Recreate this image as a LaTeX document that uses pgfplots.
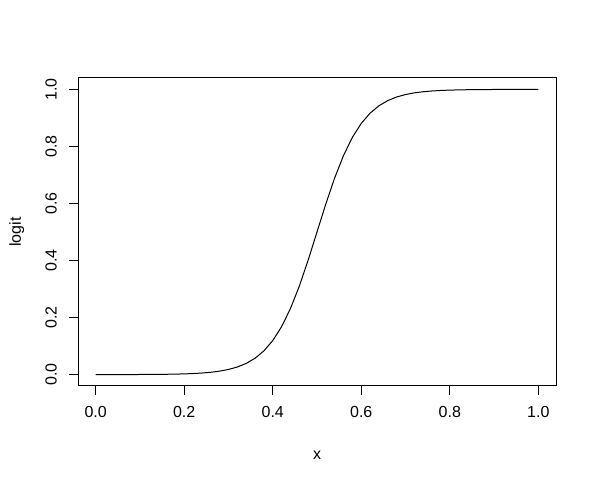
\documentclass[border=0pt]{standalone}
\usepackage{pgfplots}
\pgfplotsset{compat=1.18}
\usepackage{fontspec}
\setmainfont{Liberation Sans}
\begin{document}
\begin{tikzpicture}[x=1pt,y=1pt]
\useasboundingbox (0,0) rectangle (597,484);
\begin{axis}[
  at={(78pt,98pt)}, anchor=south west,
  scale only axis, width=478pt, height=308pt,
  xmin=-0.04, xmax=1.04, ymin=-0.04, ymax=1.04,
  axis line style={line width=1pt},
  tick style={line width=1pt, black},
  major tick length=9pt, tick align=outside, tick pos=left,
  xtick={0,0.2,0.4,0.6,0.8,1}, xticklabels={0.0,0.2,0.4,0.6,0.8,1.0},
  ytick={0,0.2,0.4,0.6,0.8,1}, yticklabels={0.0,0.2,0.4,0.6,0.8,1.0},
  every tick label/.append style={font=\fontsize{16}{19}\selectfont, inner sep=0pt},
  xticklabel style={anchor=north},
  yticklabel style={rotate=90, anchor=south},
  xticklabel shift=11pt, yticklabel shift=12pt,
  xlabel={x}, ylabel={logit},
  label style={font=\fontsize{16}{19}\selectfont},
  xlabel style={at={(axis description cs:0.5,-0.224)}, anchor=center},
  ylabel style={at={(axis description cs:-0.128,0.5)}, anchor=center},
]
\addplot[black, line width=1pt] coordinates {
(0.00,0.0000454)(0.02,0.0000677)(0.04,0.000101)(0.06,0.000151)(0.08,0.000225)
(0.10,0.000335)(0.12,0.000500)(0.14,0.000746)(0.16,0.00111)(0.18,0.00166)
(0.20,0.00247)(0.22,0.00368)(0.24,0.00549)(0.26,0.00816)(0.28,0.01213)
(0.30,0.01799)(0.32,0.02660)(0.34,0.03917)(0.36,0.05732)(0.38,0.08317)
(0.40,0.1192)(0.42,0.1680)(0.44,0.2315)(0.46,0.3100)(0.48,0.4013)
(0.50,0.5000)(0.52,0.5987)(0.54,0.6900)(0.56,0.7685)(0.58,0.8320)
(0.60,0.8808)(0.62,0.9168)(0.64,0.9427)(0.66,0.9608)(0.68,0.9734)
(0.70,0.9820)(0.72,0.9879)(0.74,0.9918)(0.76,0.9945)(0.78,0.9963)
(0.80,0.9975)(0.82,0.9983)(0.84,0.9989)(0.86,0.9993)(0.88,0.9995)
(0.90,0.9997)(0.92,0.9998)(0.94,0.99985)(0.96,0.9999)(0.98,0.99993)
(1.00,0.99995)
};
\end{axis}
\end{tikzpicture}
\end{document}
